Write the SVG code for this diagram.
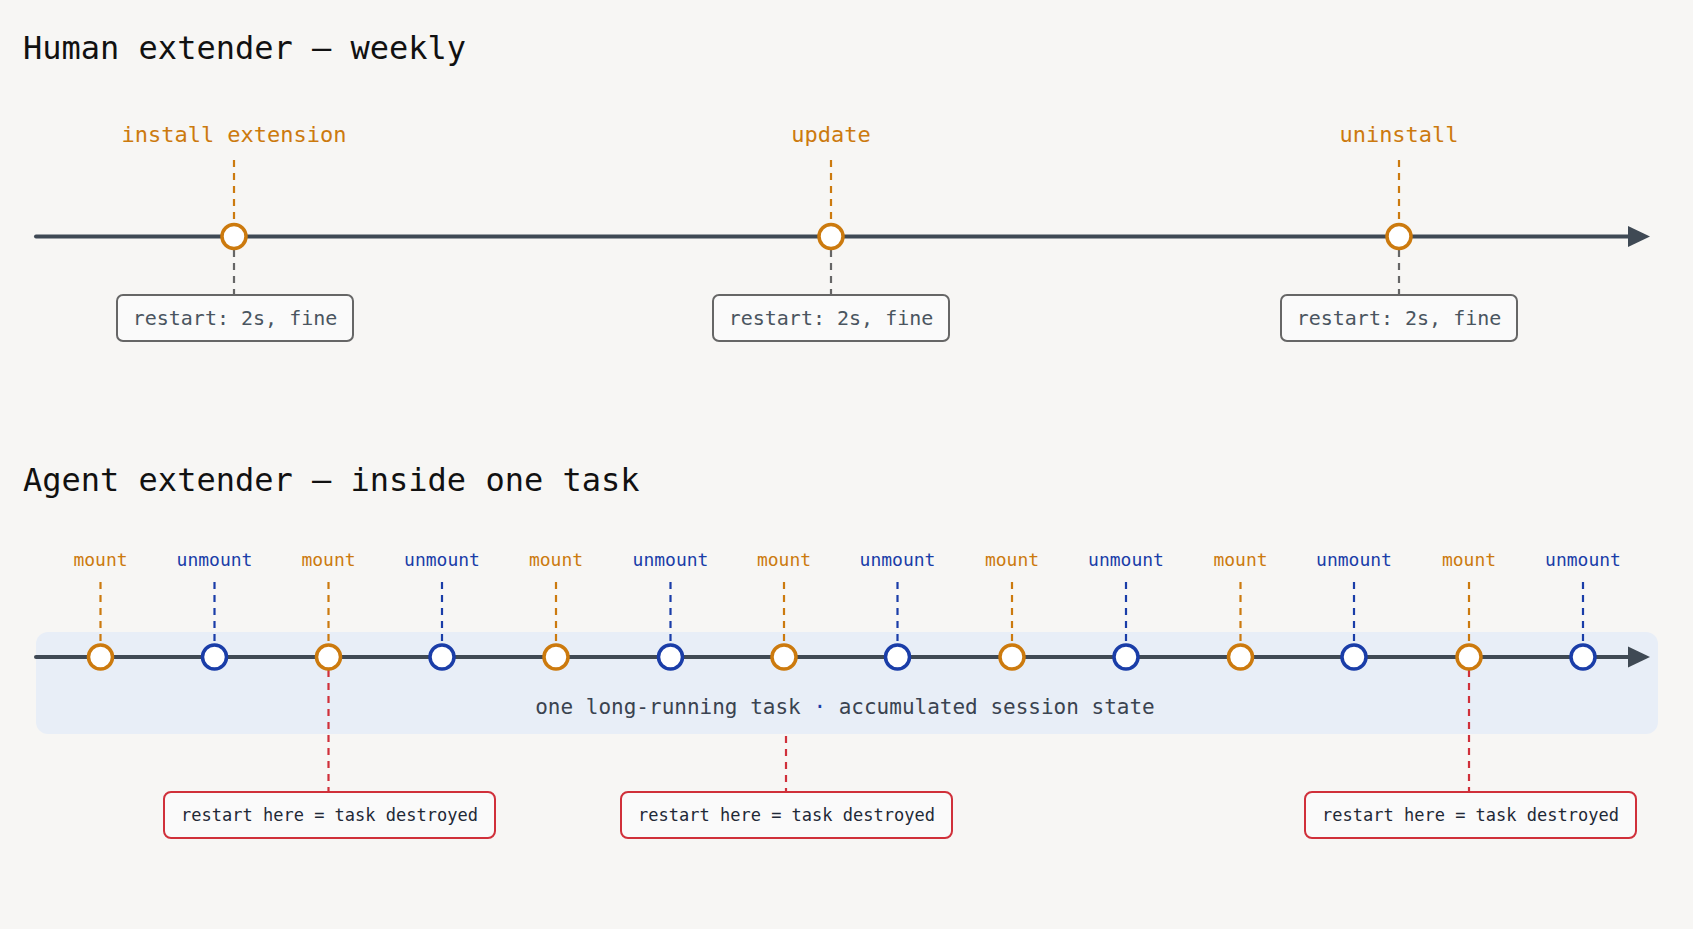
<svg xmlns="http://www.w3.org/2000/svg" width="1693" height="929" viewBox="0 0 1693 929">
<style>
text{font-family:"DejaVu Sans Mono","Liberation Mono",monospace}
.title{font-size:32px;fill:#111;font-weight:500}
.or{fill:#cc7a0e}.bl{fill:#1a3da8}
.lab{font-size:22px;text-anchor:middle}
.sm{font-size:18px;text-anchor:middle}
.axis{stroke:#3f4954;stroke-width:4;stroke-linecap:round}
.dor{stroke:#cc7a0e;stroke-width:2.2;stroke-dasharray:7 6}
.dbl{stroke:#1a3da8;stroke-width:2.2;stroke-dasharray:7 6}
.dgr{stroke:#666;stroke-width:2.2;stroke-dasharray:7 6}
.drd{stroke:#d0303a;stroke-width:2.2;stroke-dasharray:7 6}
.cor{fill:#fff;stroke:#cc7a0e;stroke-width:3.5}
.cbl{fill:#fff;stroke:#1a3da8;stroke-width:3.5}
.gbox{fill:#fafafa;stroke:#666;stroke-width:2}
.rbox{fill:#fafafa;stroke:#d0303a;stroke-width:2}
.gt{font-size:20px;fill:#4a5560;text-anchor:middle}
.rt{font-size:17px;fill:#1f2937;text-anchor:middle}
</style>
<rect width="1693" height="929" fill="#f7f6f4"/>
<text class="title" x="23" y="59">Human extender — weekly</text>
<text class="title" x="23" y="491">Agent extender — inside one task</text>
<rect x="36" y="632" width="1622" height="102" rx="12" fill="#e8eef7"/>
<g id="connectors">
<line class="axis" x1="36" y1="236.5" x2="1630" y2="236.5"/>
<polygon points="1650,236.5 1628,226 1628,247" fill="#3f4954"/>
<line class="axis" x1="36" y1="657" x2="1630" y2="657"/>
<polygon points="1650,657 1628,646.5 1628,667.5" fill="#3f4954"/>
<line class="dor" x1="234" y1="160" x2="234" y2="224"/>
<line class="dgr" x1="234" y1="250" x2="234" y2="295"/>
<line class="dor" x1="831" y1="160" x2="831" y2="224"/>
<line class="dgr" x1="831" y1="250" x2="831" y2="295"/>
<line class="dor" x1="1399" y1="160" x2="1399" y2="224"/>
<line class="dgr" x1="1399" y1="250" x2="1399" y2="295"/>
<line class="dor" x1="100.5" y1="582" x2="100.5" y2="645"/>
<line class="dbl" x1="214.5" y1="582" x2="214.5" y2="645"/>
<line class="dor" x1="328.5" y1="582" x2="328.5" y2="645"/>
<line class="dbl" x1="442" y1="582" x2="442" y2="645"/>
<line class="dor" x1="556" y1="582" x2="556" y2="645"/>
<line class="dbl" x1="670.5" y1="582" x2="670.5" y2="645"/>
<line class="dor" x1="784" y1="582" x2="784" y2="645"/>
<line class="dbl" x1="897.5" y1="582" x2="897.5" y2="645"/>
<line class="dor" x1="1012" y1="582" x2="1012" y2="645"/>
<line class="dbl" x1="1126" y1="582" x2="1126" y2="645"/>
<line class="dor" x1="1240.5" y1="582" x2="1240.5" y2="645"/>
<line class="dbl" x1="1354" y1="582" x2="1354" y2="645"/>
<line class="dor" x1="1469" y1="582" x2="1469" y2="645"/>
<line class="dbl" x1="1583" y1="582" x2="1583" y2="645"/>
<line class="drd" x1="328.5" y1="670" x2="328.5" y2="792"/>
<line class="drd" x1="786" y1="736" x2="786" y2="792"/>
<line class="drd" x1="1469" y1="670" x2="1469" y2="792"/>
</g>
<g id="install"><text class="lab or" x="234" y="142">install extension</text><circle class="cor" cx="234" cy="236.5" r="12"/></g>
<g id="update"><text class="lab or" x="831" y="142">update</text><circle class="cor" cx="831" cy="236.5" r="12"/></g>
<g id="uninstall"><text class="lab or" x="1399" y="142">uninstall</text><circle class="cor" cx="1399" cy="236.5" r="12"/></g>
<g id="restart1"><rect class="gbox" x="117" y="295" width="236" height="46" rx="6"/><text class="gt" x="235" y="325">restart: 2s, fine</text></g>
<g id="restart2"><rect class="gbox" x="713" y="295" width="236" height="46" rx="6"/><text class="gt" x="831" y="325">restart: 2s, fine</text></g>
<g id="restart3"><rect class="gbox" x="1281" y="295" width="236" height="46" rx="6"/><text class="gt" x="1399" y="325">restart: 2s, fine</text></g>
<g id="m1"><text class="sm or" x="100.5" y="566">mount</text><circle class="cor" cx="100.5" cy="657" r="12"/></g>
<g id="u1"><text class="sm bl" x="214.5" y="566">unmount</text><circle class="cbl" cx="214.5" cy="657" r="12"/></g>
<g id="m2"><text class="sm or" x="328.5" y="566">mount</text><circle class="cor" cx="328.5" cy="657" r="12"/></g>
<g id="u2"><text class="sm bl" x="442" y="566">unmount</text><circle class="cbl" cx="442" cy="657" r="12"/></g>
<g id="m3"><text class="sm or" x="556" y="566">mount</text><circle class="cor" cx="556" cy="657" r="12"/></g>
<g id="u3"><text class="sm bl" x="670.5" y="566">unmount</text><circle class="cbl" cx="670.5" cy="657" r="12"/></g>
<g id="m4"><text class="sm or" x="784" y="566">mount</text><circle class="cor" cx="784" cy="657" r="12"/></g>
<g id="u4"><text class="sm bl" x="897.5" y="566">unmount</text><circle class="cbl" cx="897.5" cy="657" r="12"/></g>
<g id="m5"><text class="sm or" x="1012" y="566">mount</text><circle class="cor" cx="1012" cy="657" r="12"/></g>
<g id="u5"><text class="sm bl" x="1126" y="566">unmount</text><circle class="cbl" cx="1126" cy="657" r="12"/></g>
<g id="m6"><text class="sm or" x="1240.5" y="566">mount</text><circle class="cor" cx="1240.5" cy="657" r="12"/></g>
<g id="u6"><text class="sm bl" x="1354" y="566">unmount</text><circle class="cbl" cx="1354" cy="657" r="12"/></g>
<g id="m7"><text class="sm or" x="1469" y="566">mount</text><circle class="cor" cx="1469" cy="657" r="12"/></g>
<g id="u7"><text class="sm bl" x="1583" y="566">unmount</text><circle class="cbl" cx="1583" cy="657" r="12"/></g>
<g id="band-label"><text x="845" y="714" font-size="21" fill="#3a4350" text-anchor="middle">one long-running task <tspan fill="#1a3da8">·</tspan> accumulated session state</text></g>
<g id="destroy1"><rect class="rbox" x="164" y="792" width="331" height="46" rx="7"/><text class="rt" x="329.5" y="821">restart here = task destroyed</text></g>
<g id="destroy2"><rect class="rbox" x="621" y="792" width="331" height="46" rx="7"/><text class="rt" x="786.5" y="821">restart here = task destroyed</text></g>
<g id="destroy3"><rect class="rbox" x="1305" y="792" width="331" height="46" rx="7"/><text class="rt" x="1470.5" y="821">restart here = task destroyed</text></g>
</svg>
